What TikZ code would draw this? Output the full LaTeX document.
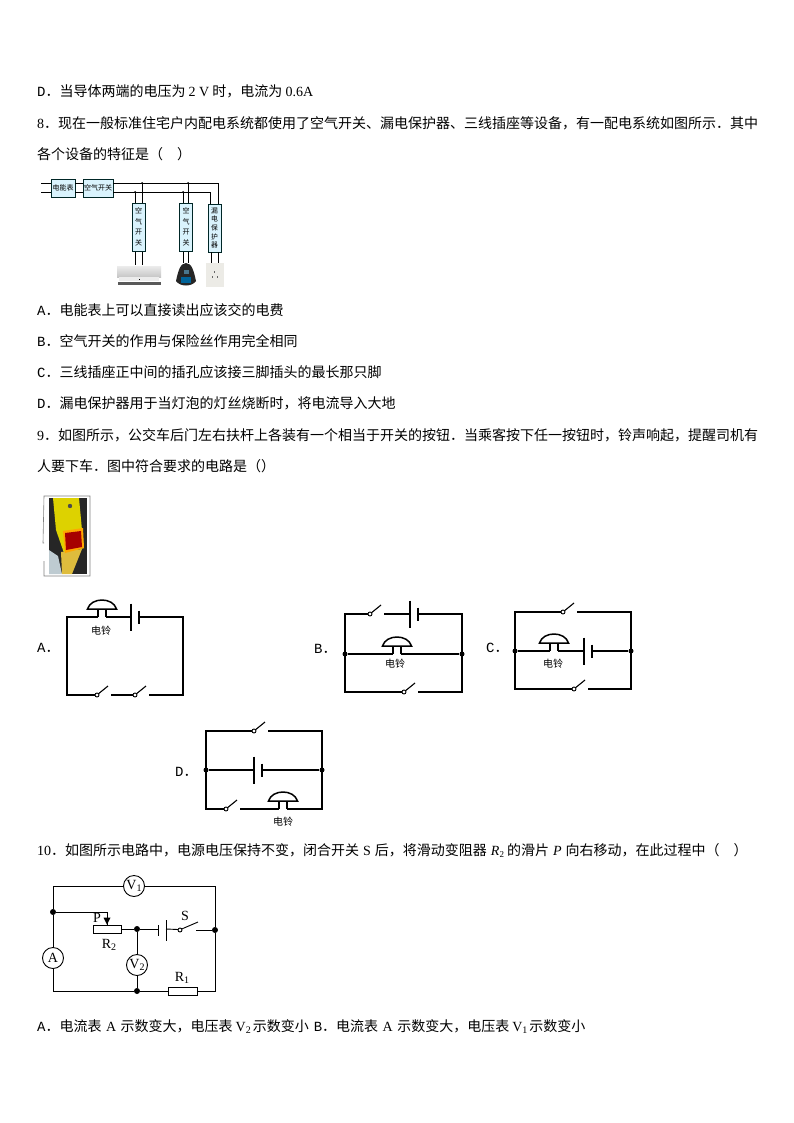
\documentclass[tikz,border=0pt]{standalone}
\usepackage{fontspec}
\setmainfont{Noto Sans CJK SC}
\newfontfamily\latn{Liberation Serif}
\newfontfamily\mono{Liberation Mono}
\usepackage{tikz}

\tikzset{
    txtline/.style={anchor=west, inner sep=0pt, font=\fontsize{14}{14}\selectfont},
    optlabel/.style={anchor=west, inner sep=0pt, font=\fontsize{14}{14}\selectfont},
    bellname/.style={inner sep=0pt, font=\fontsize{10}{10}\selectfont},
    wire/.style={line width=1.5pt, black},
    thinwire/.style={line width=0.9pt, black},
    dotmark/.style={circle, fill=black, inner sep=0pt, minimum size=5pt},
    bigdot/.style={circle, fill=black, inner sep=0pt, minimum size=6pt},
    boxlabel/.style={draw=black!70!teal, fill=cyan!15, line width=0.8pt, inner sep=0pt,
        font=\fontsize{7}{10.5}\selectfont, align=center},
    meter/.style={circle, draw=black, line width=0.9pt, fill=white, minimum size=21pt, inner sep=0pt,
        font=\fontsize{14}{14}\selectfont\latn},
    resistor/.style={rectangle, draw=black, line width=0.9pt, fill=white, inner sep=0pt},
    partname/.style={inner sep=0pt, font=\fontsize{14}{14}\selectfont\latn},
    switchsym/.pic={
        \draw[line width=0.9pt] (0,0) circle (2);
        \draw[line width=1.1pt] (1.4,-1.2) -- (11,-9);
        \coordinate (-L) at (-2,0);
        \coordinate (-R) at (14,0);
    },
    bellsym/.pic={
        \draw[wire] (-14.5,-8) .. controls (-11,-20) and (11,-20) .. (14.5,-8) -- cycle;
        \draw[wire] (-4,0) -- (-4,-8);
        \draw[wire] (4,0) -- (4,-8);
        \coordinate (-L) at (-4,0);
        \coordinate (-R) at (4,0);
    },
    cellsym/.pic={
        \draw[wire] (0,-13.5) -- (0,13.5);
        \draw[wire] (8,-6.5) -- (8,6.5);
        \coordinate (-L) at (0,0);
        \coordinate (-R) at (8,0);
    },
}

\begin{document}
\begin{tikzpicture}[x=1pt, y=-1pt]
    \useasboundingbox (0,0) rectangle (794,1123);
    \fill[white] (0,0) rectangle (794,1123);

    % Question text
    \node[txtline] (lineD) at (37,91) {{\mono D}．当导体两端的电压为 {\latn 2 V} 时，电流为 {\latn 0.6A}};
    \node[txtline] (lineEight) at (37,123) {{\latn 8}．现在一般标准住宅户内配电系统都使用了空气开关、漏电保护器、三线插座等设备，有一配电系统如图所示．其中};
    \node[txtline] (lineEightB) at (37,154) {各个设备的特征是（\hspace{14pt}）};
    \node[txtline] (optA) at (37,310) {{\mono A}．电能表上可以直接读出应该交的电费};
    \node[txtline] (optB) at (37,341) {{\mono B}．空气开关的作用与保险丝作用完全相同};
    \node[txtline] (optC) at (37,372) {{\mono C}．三线插座正中间的插孔应该接三脚插头的最长那只脚};
    \node[txtline] (optD) at (37,403) {{\mono D}．漏电保护器用于当灯泡的灯丝烧断时，将电流导入大地};
    \node[txtline] (lineNine) at (37,435) {{\latn 9}．如图所示，公交车后门左右扶杆上各装有一个相当于开关的按钮．当乘客按下任一按钮时，铃声响起，提醒司机有};
    \node[txtline] (lineNineB) at (37,466) {人要下车．图中符合要求的电路是（）};
    \node[txtline] (lineTen) at (37,850) {{\latn 10}．如图所示电路中，电源电压保持不变，闭合开关\hspace{4pt}{\latn S}\hspace{4pt}后，将滑动变阻器\hspace{4pt}{\latn\itshape R}{\latn\fontsize{9}{9}\selectfont\raisebox{-2pt}{2}}\hspace{3pt}的滑片\hspace{4pt}{\latn\itshape P}\hspace{4pt}向右移动，在此过程中（\hspace{14pt}）};
    \node[txtline] (lineLast) at (37,1027) {{\mono A}．电流表\hspace{4.5pt}{\latn A}\hspace{4.5pt}示数变大，电压表\hspace{3pt}{\latn V}{\latn\fontsize{10}{10}\selectfont\raisebox{-2pt}{2}}\hspace{2pt}示数变小\hspace{5pt}{\mono B}．电流表\hspace{4.5pt}{\latn A}\hspace{4.5pt}示数变大，电压表\hspace{3pt}{\latn V}{\latn\fontsize{10}{10}\selectfont\raisebox{-2pt}{1}}\hspace{2pt}示数变小};

    % Distribution system: boxes
    \node[boxlabel, minimum width=24pt, minimum height=18pt] (meterbox) at (63,188) {电能表};
    \node[boxlabel, minimum width=30pt, minimum height=18pt] (mainsw) at (98,188) {空气开关};
    \node[boxlabel, minimum width=13pt, minimum height=48pt] (swOne) at (138.5,227) {空\\气\\开\\关};
    \node[boxlabel, minimum width=13pt, minimum height=48pt] (swTwo) at (186,227) {空\\气\\开\\关};
    \node[boxlabel, minimum width=13pt, minimum height=48pt, font=\fontsize{6.8}{8.6}\selectfont] (leakbox) at (214.5,228) {漏\\电\\保\\护\\器};

    % Distribution system: wires
    \coordinate (inA) at (41,183);
    \coordinate (inB) at (41,192);
    \draw[thinwire] (inA) -- (meterbox.west |- inA);
    \draw[thinwire] (inB) -- (meterbox.west |- inB);
    \draw[thinwire] (meterbox.east |- inA) -- (mainsw.west |- inA);
    \draw[thinwire] (meterbox.east |- inB) -- (mainsw.west |- inB);
    \draw[thinwire] (mainsw.east |- inA) -- (218,183) -- (218,204);
    \draw[thinwire] (mainsw.east |- inB) -- (210,192) -- (210,204);
    \foreach \tapx/\tapy in {135/192, 142/183, 183/192, 188/183} {
        \fill (\tapx,\tapy) circle (1pt);
        \draw[thinwire] (\tapx,\tapy) -- (\tapx,203);
    }
    \foreach \legx/\legend in {135/265, 142/265, 183/263, 188/263, 211/263, 218/263} {
        \draw[thinwire] (\legx,252) -- (\legx,\legend);
    }

    % Air conditioner, lamp, socket
    \shade[top color=gray!15, bottom color=gray!45] (117,266) rectangle (161,277);
    \fill[white!85!gray] (119,277) rectangle (159,281);
    \fill[black] (139,279) rectangle (140,280);
    \fill[black!65] (118,282) rectangle (161,285);
    \fill[black!85] (176,281) .. controls (178,272) and (180,263) .. (186,263) .. controls (192,263) and (194,272) .. (196,281) .. controls (192,287) and (180,287) .. cycle;
    \fill[blue!35!cyan!60!black] (181,277) rectangle (191,283);
    \fill[cyan!50!black] (184,270) rectangle (189,274);
    \fill[yellow!12!gray!20] (206,263) rectangle (224,287);
    \fill[black!60] (214,271) rectangle (215,273);
    \fill[black!60] (212,276) rectangle (213,278);
    \fill[black!60] (217,276) rectangle (218,278);

    % Photo of the button
    \draw[gray, line width=0.6pt] (44,543) -- (43,543) -- (44,496) -- (90,496) -- (90,576) -- (44,576) -- (44,561);
    \fill[black!85] (49,498) rectangle (87,574);
    \fill[cyan!20!gray!50] (49,550) -- (58,556) -- (62,574) -- (49,574) -- cycle;
    \fill[yellow!70!olive] (53,498) -- (79,498) -- (82,530) -- (84,548) -- (64,553) -- (56,530) -- cycle;
    \fill[yellow!45!brown] (61,552) -- (82,549) -- (72,574) -- (62,574) -- cycle;
    \fill[orange!70!yellow] (63,531) -- (83,528) -- (84,548) -- (65,553) -- cycle;
    \fill[red!65!black] (65,533) -- (81,531) -- (82,547) -- (66,550) -- cycle;
    \fill[black!70] (70,506) circle (2.2);

    % Circuit A
    \node[optlabel] (labA) at (37,648) {{\mono A}．};
    \coordinate (aTL) at (67,617);
    \coordinate (aTR) at (183,617);
    \coordinate (aBL) at (67,695);
    \coordinate (aBR) at (183,695);
    \pic (aBell) at (102,617) {bellsym};
    \pic (aCell) at (131,617) {cellsym};
    \pic (aSwA) at (97,695) {switchsym};
    \pic (aSwB) at (135,695) {switchsym};
    \node[bellname] (aName) at (101,631) {电铃};
    \draw[wire] (aBell-L) -- (aTL) -- (aBL) -- (aSwA-L);
    \draw[wire] (aBell-R) -- (aCell-L);
    \draw[wire] (aCell-R) -- (aTR) -- (aBR) -- (aSwB-R);
    \draw[wire] (aSwA-R) -- (aSwB-L);

    % Circuit B
    \node[optlabel] (labB) at (314,649) {{\mono B}．};
    \coordinate (bTL) at (345,614);
    \coordinate (bTR) at (462,614);
    \coordinate (bBL) at (345,692);
    \coordinate (bBR) at (462,692);
    \node[dotmark] (bDotL) at (345,654) {};
    \node[dotmark] (bDotR) at (462,654) {};
    \pic (bSwT) at (370,614) {switchsym};
    \pic (bCell) at (410,614) {cellsym};
    \pic (bBell) at (397,654) {bellsym};
    \pic (bSwB) at (404,692) {switchsym};
    \node[bellname] (bName) at (395,664) {电铃};
    \draw[wire] (bSwT-L) -- (bTL) -- (bBL) -- (bSwB-L);
    \draw[wire] (bSwT-R) -- (bCell-L);
    \draw[wire] (bCell-R) -- (bTR) -- (bBR) -- (bSwB-R);
    \draw[wire] (bDotL) -- (bBell-L);
    \draw[wire] (bBell-R) -- (bDotR);

    % Circuit C
    \node[optlabel] (labC) at (486,648) {{\mono C}．};
    \coordinate (cTL) at (515,612);
    \coordinate (cTR) at (631,612);
    \coordinate (cBL) at (515,689);
    \coordinate (cBR) at (631,689);
    \node[dotmark] (cDotL) at (515,651) {};
    \node[dotmark] (cDotR) at (631,651) {};
    \pic (cSwT) at (563,612) {switchsym};
    \pic (cBell) at (554,651) {bellsym};
    \pic (cCell) at (584,651) {cellsym};
    \pic (cSwB) at (574,689) {switchsym};
    \node[bellname] (cName) at (553,664) {电铃};
    \draw[wire] (cSwT-L) -- (cTL) -- (cBL) -- (cSwB-L);
    \draw[wire] (cSwT-R) -- (cTR) -- (cBR) -- (cSwB-R);
    \draw[wire] (cDotL) -- (cBell-L);
    \draw[wire] (cBell-R) -- (cCell-L);
    \draw[wire] (cCell-R) -- (cDotR);

    % Circuit D
    \node[optlabel] (labD) at (175,772) {{\mono D}．};
    \coordinate (dTL) at (206,731);
    \coordinate (dTR) at (322,731);
    \coordinate (dBL) at (206,809);
    \coordinate (dBR) at (322,809);
    \node[dotmark] (dDotL) at (206,770) {};
    \node[dotmark] (dDotR) at (322,770) {};
    \pic (dSwT) at (254,731) {switchsym};
    \pic (dCell) at (254,770) {cellsym};
    \pic (dSwB) at (226,809) {switchsym};
    \pic (dBell) at (283,809) {bellsym};
    \node[bellname] (dName) at (283,822) {电铃};
    \draw[wire] (dSwT-L) -- (dTL) -- (dBL) -- (dSwB-L);
    \draw[wire] (dSwT-R) -- (dTR) -- (dBR) -- (dBell-R);
    \draw[wire] (dSwB-R) -- (dBell-L);
    \draw[wire] (dDotL) -- (dCell-L);
    \draw[wire] (dCell-R) -- (dDotR);

    % Circuit of question 10
    \coordinate (eTL) at (53,886);
    \coordinate (eTR) at (215,886);
    \coordinate (eBL) at (53,991);
    \coordinate (eBR) at (215,991);
    \node[meter] (vOne) at (134,886) {V\raisebox{-2pt}{\fontsize{10}{10}\selectfont 1}};
    \node[meter] (ammeter) at (53,958) {A};
    \node[meter] (vTwo) at (137,965) {V\raisebox{-2pt}{\fontsize{10}{10}\selectfont 2}};
    \node[resistor, minimum width=28pt, minimum height=8pt] (rTwo) at (107,929) {};
    \node[resistor, minimum width=29pt, minimum height=8pt] (rOne) at (182.5,991) {};
    \node[bigdot] (dotLeft) at (53,912) {};
    \node[bigdot] (dotMid) at (137,929) {};
    \node[bigdot] (dotRight) at (215,930) {};
    \node[bigdot] (dotLow) at (137,991) {};
    \coordinate (slideTop) at (107,912);
    \coordinate (cellShort) at (158,929);
    \coordinate (cellLong) at (166,929);
    \coordinate (eContact) at (180,930);
    \coordinate (eResume) at (196,930);
    \draw[thinwire] (vOne) -- (eTL) -- (dotLeft) -- (ammeter);
    \draw[thinwire] (vOne) -- (eTR) -- (dotRight) -- (eBR) -- (rOne);
    \draw[thinwire] (ammeter) -- (eBL) -- (dotLow) -- (rOne);
    \draw[thinwire] (dotLeft) -- (slideTop) -- (rTwo.north);
    \fill (rTwo.north) -- ++(-3.5,-7) -- ++(7,0) -- cycle;
    \draw[thinwire] (rTwo) -- (dotMid) -- (cellShort);
    \draw[thinwire] (dotMid) -- (vTwo) -- (dotLow);
    \draw[thinwire] (cellShort |- 0,925) -- (cellShort |- 0,936);
    \draw[thinwire] (cellLong |- 0,920) -- (cellLong |- 0,941);
    \draw[thinwire] (cellLong) -- (178,929.5);
    \draw[thinwire] (eContact) circle (2);
    \draw[thinwire] (181.7,929) -- (198,922);
    \draw[thinwire] (eResume) -- (dotRight);
    \node[partname] (labP) at (97,918) {P};
    \node[partname] (labSlide) at (109,945) {R\raisebox{-2pt}{\fontsize{10}{10}\selectfont 2}};
    \node[partname] (labS) at (185,916) {S};
    \node[partname] (labRone) at (182,978) {R\raisebox{-2pt}{\fontsize{10}{10}\selectfont 1}};
\end{tikzpicture}
\end{document}
